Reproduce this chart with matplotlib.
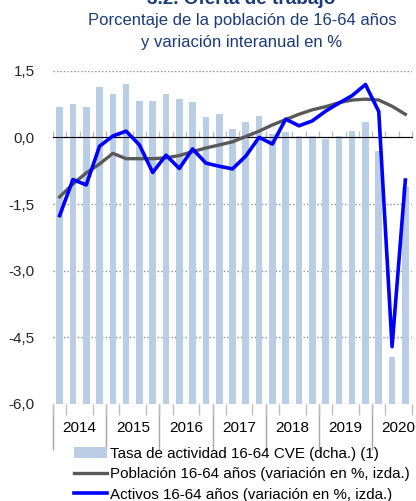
import matplotlib.pyplot as plt
import numpy as np

plt.rcParams['font.family'] = ['Liberation Sans', 'DejaVu Sans']

years = ['2014', '2015', '2016', '2017', '2018', '2019', '2020']
# quarters 2014T1 .. 2020T3
tasa_actividad = [76.9, 77.0, 76.9, 77.5, 77.3, 77.6, 77.1, 77.1, 77.3, 77.15, 77.05, 76.6,
                  76.7, 76.25, 76.45, 76.65, 76.1, 76.15, 76.05, 76.05, 75.95, 76.05, 76.2, 76.45,
                  75.6, 69.4, 74.5]
poblacion = [-1.34, -1.05, -0.8, -0.6, -0.36, -0.48, -0.48, -0.48, -0.46, -0.41, -0.32, -0.24,
             -0.17, -0.1, 0.02, 0.14, 0.28, 0.4, 0.52, 0.62, 0.69, 0.78, 0.84, 0.86,
             0.84, 0.7, 0.52]
activos = [-1.76, -0.95, -1.07, -0.2, 0.03, 0.14, -0.17, -0.79, -0.4, -0.7, -0.26, -0.58,
           -0.65, -0.71, -0.42, 0.0, -0.15, 0.41, 0.26, 0.37, 0.59, 0.77, 0.94, 1.19,
           0.58, -4.71, -0.96]

navy = '#1B3A78'
x = np.arange(len(activos))

fig = plt.figure(figsize=(4.16, 5.01), dpi=100)
ax = fig.add_axes([53/416, 1 - 404/501, 359/416, 333.3/501])
ax2 = ax.twinx()
ax.set_zorder(ax2.get_zorder() + 1)
ax.patch.set_visible(False)

# bars (right axis)
b = ax2.bar(x, tasa_actividad, width=0.5, bottom=0, color='#B9CDE5',
            label='Tasa de actividad 16-64 CVE (dcha.) (1)')
ax2.set_ylim(68, 78)
ax2.set_yticks(np.arange(68, 78.1, 2))
ax2.grid(axis='y', color='#8C8C8C', linestyle=(0, (1, 1.5)), lw=1)
ax2.set_axisbelow(True)
ax2.tick_params(right=False, labelright=False)

# lines (left axis)
l1, = ax.plot(x, poblacion, color='#595959', lw=2.4, label='Población 16-64 años (variación en %, izda.)')
l2, = ax.plot(x, activos, color='#0000FF', lw=2.6, label='Activos 16-64 años (variación en %, izda.)')
ax.set_ylim(-6, 1.5)
ax.set_xlim(-0.5, len(x) - 0.5)
ax.set_yticks(np.arange(-6, 1.6, 1.5))
ax.set_yticklabels([f'{v:.1f}'.replace('.', ',') for v in np.arange(-6, 1.6, 1.5)])
ax.tick_params(axis='y', length=0, pad=13, labelsize=11, labelcolor='#262626')

for a in (ax, ax2):
    for s in a.spines.values():
        s.set_visible(False)

# year labels at year centres, quarter ticks at boundaries
ax.set_xticks(np.arange(1.5, len(x), 4))
ax.set_xticklabels(years)
ax.set_xticks(np.arange(-0.5, len(x), 1), minor=True)
ax.tick_params(axis='x', which='major', length=0, pad=12, labelsize=11)
ax.tick_params(axis='x', which='minor', length=8, color='#BFBFBF', width=1)

# long year separators
sep = ax.secondary_xaxis(0)
sep.set_xticks(np.arange(-0.5, len(x), 4))
sep.set_xticklabels([])
sep.tick_params(length=33, color='#A6A6A6', width=1)
sep.spines['bottom'].set_visible(False)

# zero axis with quarter ticks
zero = ax.secondary_xaxis(0.8)
zero.set_xticks(np.arange(-0.5, len(x), 1))
zero.set_xticklabels([])
zero.tick_params(length=4, color='#BFBFBF', width=1)
zero.spines['bottom'].set_color('black')
zero.spines['bottom'].set_linewidth(1)

fig.text(241/416, 1 - 4/501, '3.2. Oferta de trabajo', ha='center', va='baseline',
         fontsize=13.7, fontweight='bold', color=navy)
fig.text(242/416, 1 - 20/501, 'Porcentaje de la población de 16-64 años', ha='center', va='center',
         fontsize=12, color=navy)
fig.text(242/416, 1 - 43/501, 'y variación interanual en %', ha='center', va='center',
         fontsize=12, color=navy)

fig.legend(handles=[b, l1, l2], loc='upper left', bbox_to_anchor=(74/416, 1 - 447/501),
           frameon=False, fontsize=10.9, handlelength=2.2, handletextpad=0.2,
           labelspacing=0.42, borderaxespad=0, borderpad=0)

fig.savefig('out.png', dpi=100)
